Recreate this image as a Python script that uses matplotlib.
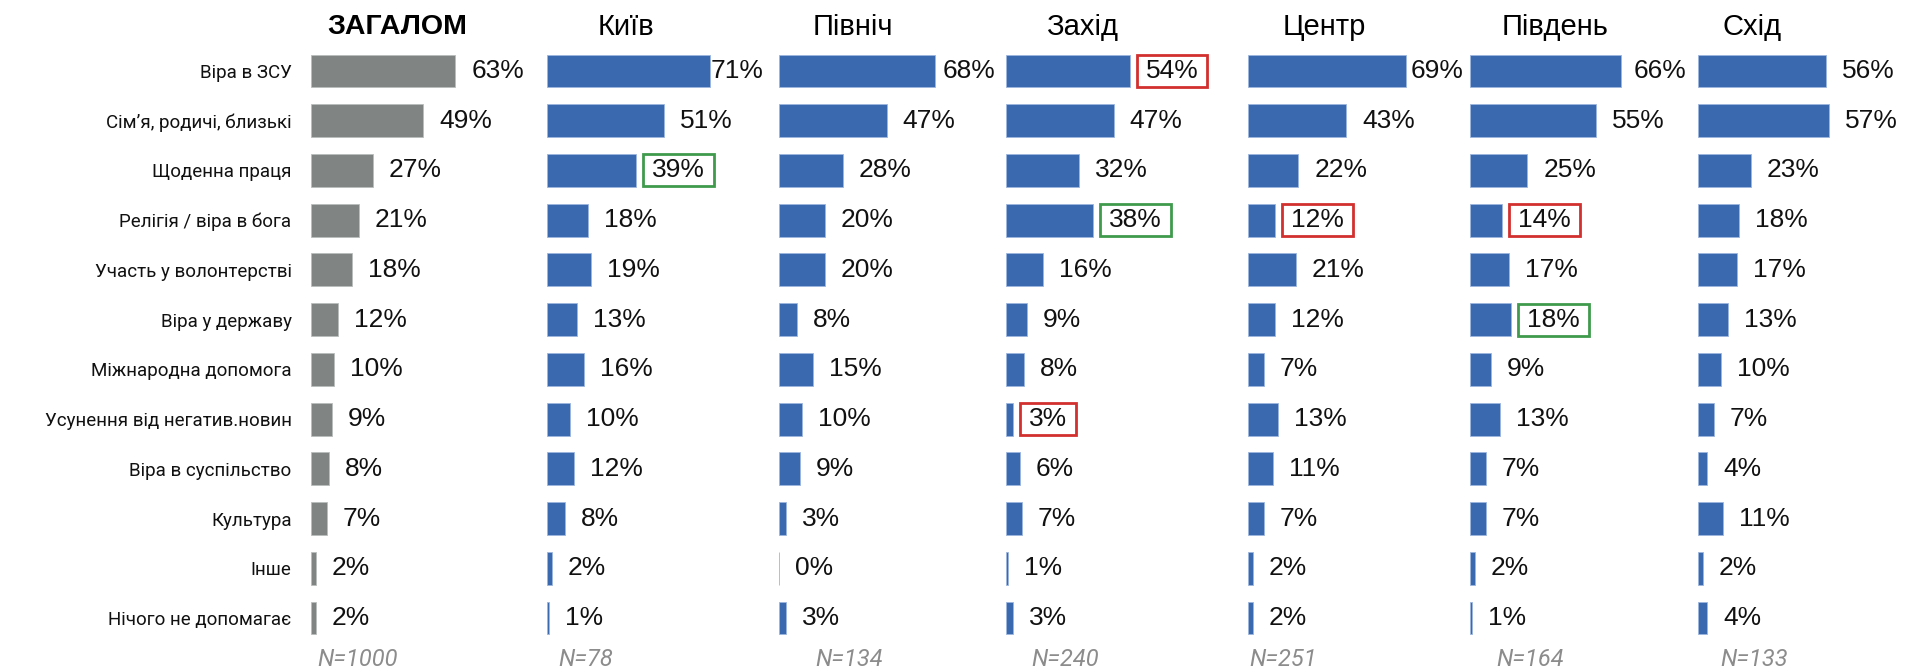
import matplotlib
matplotlib.use('Agg')
import matplotlib.pyplot as plt
from matplotlib.patches import Rectangle

categories = ['Віра в ЗСУ', 'Сім’я, родичі, близькі', 'Щоденна праця',
              'Релігія / віра в бога', 'Участь у волонтерстві', 'Віра у державу',
              'Міжнародна допомога', 'Усунення від негатив.новин',
              'Віра в суспільство', 'Культура', 'Інше', 'Нічого не допомагає']

regions = ['ЗАГАЛОМ', 'Київ', 'Північ', 'Захід', 'Центр', 'Південь', 'Схід']
sample_sizes = ['N=1000', 'N=78', 'N=134', 'N=240', 'N=251', 'N=164', 'N=133']

total = [63, 49, 27, 21, 18, 12, 10, 9, 8, 7, 2, 2]
kyiv = [71, 51, 39, 18, 19, 13, 16, 10, 12, 8, 2, 1]
north = [68, 47, 28, 20, 20, 8, 15, 10, 9, 3, 0, 3]
west = [54, 47, 32, 38, 16, 9, 8, 3, 6, 7, 1, 3]
center = [69, 43, 22, 12, 21, 12, 7, 13, 11, 7, 2, 2]
south = [66, 55, 25, 14, 17, 18, 9, 13, 7, 7, 2, 1]
east = [56, 57, 23, 18, 17, 13, 10, 7, 4, 11, 2, 4]

# підсвічені значення: (регіон, номер рядка, колір рамки)
RED, GREEN = '#d2302f', '#3f9a4c'
highlights = [(1, 2, GREEN), (3, 0, RED), (3, 3, GREEN), (3, 7, RED),
              (4, 3, RED), (5, 3, RED), (5, 5, GREEN)]

series = [total, kyiv, north, west, center, south, east]

W, H = 1907, 672
fig = plt.figure(figsize=(W / 100, H / 100), dpi=100)

# розмітка у пікселях
bar_x0 = [311, 547, 779, 1006, 1248, 1470, 1698]
title_cx = [397, 626, 853, 1082, 1324, 1555, 1752]
n_x0 = [317, 558, 815, 1031, 1249, 1496, 1720]
ax_w = 216
px_per = 2.29
xmax = ax_w / px_per
row_top, row_bot = 71, 618
pitch = (row_bot - row_top) / 11
y_top = row_top - pitch / 2
y_bot = row_bot + pitch / 2

labels = []
axes = []
for i, vals in enumerate(series):
    ax = fig.add_axes([bar_x0[i] / W, 1 - y_bot / H, ax_w / W, (y_bot - y_top) / H])
    axes.append(ax)
    color = '#808584' if i == 0 else '#3a69b0'
    edge = '#b9bdbc' if i == 0 else '#9db6dd'
    ax.barh(range(len(vals)), vals, height=0.66, color=color, edgecolor=edge, linewidth=0.6)
    ax.set_xlim(0, xmax)
    ax.set_ylim(len(vals) - 0.5, -0.5)
    for s in ax.spines.values():
        s.set_visible(False)
    ax.set_xticks([])
    if i == 0:
        ax.set_yticks(range(len(categories)))
        ax.set_yticklabels(categories, fontsize=13.5, family='Roboto', color='#111111')
        ax.tick_params(axis='y', length=0, pad=14)
    else:
        ax.set_yticks([])
    for j, v in enumerate(vals):
        t = ax.text(v + 16 / px_per, j, f'{v}%', va='center', ha='left',
                    fontsize=19, family='Liberation Sans', color='#111111')
        labels.append((i, j, t))
    if i == 0:
        fig.text(title_cx[i] / W, 1 - 27 / H, regions[i], ha='center', va='center',
                 fontsize=20.5, fontweight='bold', family='Liberation Sans')
    else:
        fig.text(title_cx[i] / W, 1 - 27 / H, regions[i], ha='center', va='center',
                 fontsize=21, family='Liberation Sans')
    fig.text(n_x0[i] / W, 1 / H, sample_sizes[i], ha='left', va='bottom',
             fontsize=17, style='italic', family='Roboto', color='#8c8c8c')

# підписи, що виходять за межі області, зсуваємо всередину
fig.canvas.draw()
r = fig.canvas.get_renderer()
for i, j, t in labels:
    ax = axes[i]
    bb = t.get_window_extent(r)
    lim = ax.get_window_extent(r).x1
    if bb.x1 > lim:
        x, y = t.get_position()
        t.set_x(x - (bb.x1 - lim) / px_per)

fig.canvas.draw()
hl = {(i, j): c for i, j, c in highlights}
for i, j, t in labels:
    if (i, j) in hl:
        bb = t.get_window_extent(r)
        x0, y0 = bb.x0 - 9, bb.y0 - 4
        w, h = bb.width + 18, bb.height + 8
        fig.add_artist(Rectangle((x0 / W, y0 / H), w / W, h / H, transform=fig.transFigure,
                                 fill=False, edgecolor=hl[(i, j)], linewidth=2))

fig.savefig('out.png', dpi=100)
